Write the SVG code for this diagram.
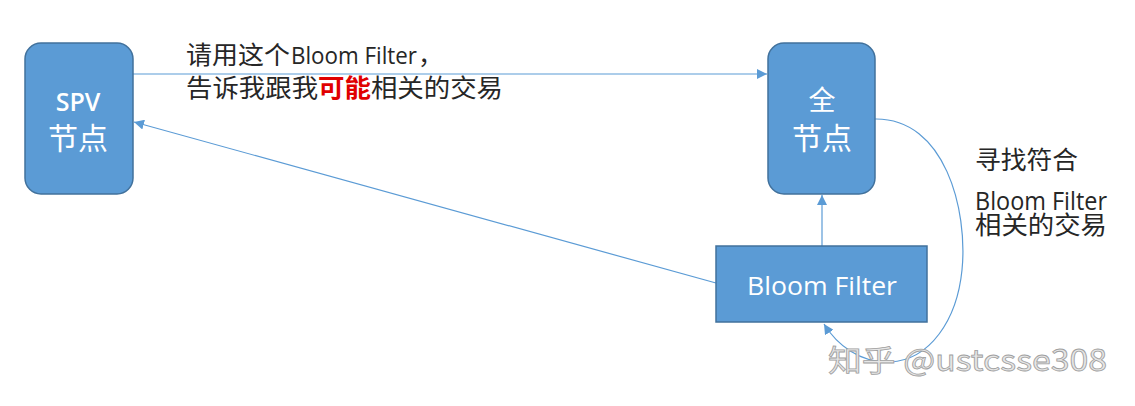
<svg xmlns="http://www.w3.org/2000/svg" width="1135" height="406" viewBox="0 0 1135 406">
<defs>
<style>
.node{fill:#5B9BD5;stroke:#41719C;stroke-width:1.5}
.conn{fill:none;stroke:#5B9BD5;stroke-width:1.2}
.cjk{font-family:"Noto Sans CJK SC",sans-serif}
.lat{font-family:"Open Sans","Noto Sans","Liberation Sans",sans-serif}
.wt{fill:#ffffff}
.bk{fill:#262626}
</style>
<marker id="arr" viewBox="0 0 10 10" refX="10" refY="5" markerWidth="10" markerHeight="10" markerUnits="userSpaceOnUse" orient="auto">
<path d="M0,0 L10,5 L0,10 Z" fill="#5B9BD5"/>
</marker>
</defs>
<rect width="1135" height="406" fill="#ffffff"/>
<g id="connectors">
<line class="conn" x1="133" y1="74" x2="767" y2="74" marker-end="url(#arr)"/>
<line class="conn" x1="716" y1="283" x2="134" y2="122" marker-end="url(#arr)"/>
<line class="conn" x1="822" y1="246" x2="822" y2="195" marker-end="url(#arr)"/>
<path class="conn" d="M875,119 C945,118 968,210 962,270 C957,320 930,360 890,362 C860,363 837,345 824,324" marker-end="url(#arr)"/>
</g>
<g id="spv">
<rect class="node" x="25" y="43" width="108" height="151" rx="16"/>
<text class="lat wt" x="78" y="111" font-size="25" font-weight="600" text-anchor="middle">SPV</text>
<text class="cjk wt" x="78" y="149" font-size="30" text-anchor="middle">节点</text>
</g>
<g id="full">
<rect class="node" x="768" y="43" width="107" height="151" rx="16"/>
<text class="cjk wt" x="822" y="110" font-size="27" text-anchor="middle">全</text>
<text class="cjk wt" x="822" y="149" font-size="30" text-anchor="middle">节点</text>
</g>
<g id="bloom">
<rect class="node" x="716" y="246" width="211" height="76"/>
<text class="lat wt" x="747" y="295" font-size="26" textLength="150" lengthAdjust="spacingAndGlyphs">Bloom Filter</text>
</g>
<g id="label-request">
<text y="64" font-size="25" class="bk"><tspan class="cjk" x="186" textLength="104" lengthAdjust="spacingAndGlyphs">请用这个</tspan><tspan class="lat" x="291" font-size="24" textLength="126" lengthAdjust="spacingAndGlyphs">Bloom Filter</tspan><tspan class="cjk" x="418">，</tspan></text>
<text y="97" font-size="25" class="cjk bk" textLength="317" lengthAdjust="spacingAndGlyphs"><tspan x="186">告诉我跟我</tspan><tspan fill="#e00000" font-weight="bold">可能</tspan><tspan>相关的交易</tspan></text>
</g>
<g id="label-find">
<text class="cjk bk" x="975" y="169" font-size="25" textLength="103" lengthAdjust="spacingAndGlyphs">寻找符合</text>
<text class="lat bk" x="975" y="210" font-size="25" textLength="132" lengthAdjust="spacingAndGlyphs">Bloom Filter</text>
<text class="cjk bk" x="975" y="234" font-size="25" textLength="132" lengthAdjust="spacingAndGlyphs">相关的交易</text>
</g>
<g id="watermark">
<text x="828" y="371" font-size="30" font-family="'Noto Sans CJK SC',sans-serif" fill="#e6e6e6" stroke="#a0a0a0" stroke-width="0.8" textLength="279" lengthAdjust="spacingAndGlyphs">知乎 @ustcsse308</text>
</g>
</svg>
